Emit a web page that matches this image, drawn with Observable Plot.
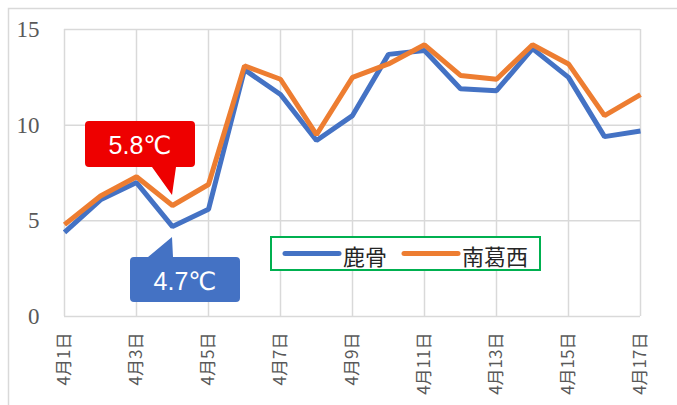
<!DOCTYPE html>
<html>
<head>
<meta charset="utf-8">
<script src="https://cdn.jsdelivr.net/npm/d3@7"></script>
<script src="https://cdn.jsdelivr.net/npm/@observablehq/plot@0.6"></script>
<style>
  html, body { margin: 0; padding: 0; background: #fff; }
  #chart { width: 677px; height: 405px; overflow: hidden; }
</style>
</head>
<body>
<div id="chart"></div>
<script>
// ---- data ----
const days = [1, 2, 3, 4, 5, 6, 7, 8, 9, 10, 11, 12, 13, 14, 15, 16, 17];
const kasabone = [4.4, 6.1, 7.0, 4.7, 5.6, 12.9, 11.6, 9.2, 10.5, 13.7, 13.9, 11.9, 11.8, 14.0, 12.5, 9.4, 9.7];
const minamikasai = [4.8, 6.3, 7.3, 5.8, 6.9, 13.1, 12.4, 9.5, 12.5, 13.2, 14.2, 12.6, 12.4, 14.2, 13.2, 10.5, 11.6];
const seriesNames = ["鹿骨", "南葛西"];
const seriesColors = ["#4472C4", "#ED7D31"];
const xTicks = [1, 3, 5, 7, 9, 11, 13, 15, 17];
const yTicks = [0, 5, 10, 15];
const calloutDay = 4;

const rows = [];
days.forEach((d, i) => {
  rows.push({day: d, value: kasabone[i], series: seriesNames[0]});
});
days.forEach((d, i) => {
  rows.push({day: d, value: minamikasai[i], series: seriesNames[1]});
});

const idx = days.indexOf(calloutDay);
const callouts = [
  {day: calloutDay, value: minamikasai[idx], color: "#EE0000", dir: "above"},
  {day: calloutDay, value: kasabone[idx], color: "#4472C4", dir: "below"}
];

function roundedPath(x0, y0, x1, y1, r, pointer) {
  let p = `M${x0 + r},${y0}`;
  if (pointer.side === "top") p += `H${pointer.a}L${pointer.tx},${pointer.ty}L${pointer.b},${y0}`;
  p += `H${x1 - r}Q${x1},${y0} ${x1},${y0 + r}V${y1 - r}Q${x1},${y1} ${x1 - r},${y1}`;
  if (pointer.side === "bottom") p += `H${pointer.b}L${pointer.tx},${pointer.ty}L${pointer.a},${y1}`;
  p += `H${x0 + r}Q${x0},${y1} ${x0},${y1 - r}V${y0 + r}Q${x0},${y0} ${x0 + r},${y0}Z`;
  return p;
}

const calloutMark = (index, scales, values, dimensions) => {
  const g = d3.create("svg:g");
  for (const c of callouts) {
    const px = scales.x(c.day), py = scales.y(c.value);
    let path, tx, ty;
    if (c.dir === "above") {
      const x0 = px - 87, x1 = px + 23, y0 = py - 84, y1 = py - 38;
      path = roundedPath(x0, y0, x1, y1, 4, {side: "bottom", a: px - 20, b: px + 4, tx: px, ty: py - 10});
      tx = (x0 + x1) / 2; ty = (y0 + y1) / 2;
    } else {
      const x0 = px - 42, x1 = px + 68, y0 = py + 31, y1 = py + 76;
      path = roundedPath(x0, y0, x1, y1, 4, {side: "top", a: px - 24, b: px + 1, tx: px, ty: py + 11});
      tx = (x0 + x1) / 2; ty = (y0 + y1) / 2;
    }
    g.append("path").attr("d", path).attr("fill", c.color);
    const t = g.append("text").attr("x", tx).attr("y", ty + 1)
      .attr("text-anchor", "middle").attr("dominant-baseline", "central")
      .attr("fill", "#fff").attr("font-family", "Arial, 'Liberation Sans', sans-serif")
      .attr("font-size", 25);
    t.append("tspan").text(`${c.value}`);
    t.append("tspan").attr("font-family", "'DejaVu Sans', sans-serif").attr("font-size", 25).text("℃");
  }
  return g.node();
};

const legendMark = (index, scales, values, dimensions) => {
  const g = d3.create("svg:g");
  const lx = 271, ly = 237, lw = 269, lh = 33, cy = ly + lh / 2;
  g.append("rect").attr("x", lx).attr("y", ly).attr("width", lw).attr("height", lh)
    .attr("fill", "#fff").attr("stroke", "#00B050").attr("stroke-width", 2);
  const items = [
    {x1: 285, x2: 339, tx: 343},
    {x1: 404, x2: 458, tx: 462}
  ];
  items.forEach((it, i) => {
    g.append("line").attr("x1", it.x1).attr("x2", it.x2).attr("y1", cy).attr("y2", cy)
      .attr("stroke", seriesColors[i]).attr("stroke-width", 5).attr("stroke-linecap", "round");
    g.append("text").attr("x", it.tx).attr("y", cy + 1).attr("dominant-baseline", "central")
      .attr("text-anchor", "start")
      .attr("font-family", "'Noto Sans CJK JP', sans-serif").attr("font-size", 22)
      .attr("fill", "#262626").text(seriesNames[i]);
  });
  return g.node();
};

const outerFrame = () => {
  const g = d3.create("svg:g");
  g.append("rect").attr("x", 8.5).attr("y", 8.5).attr("width", 900).attr("height", 900)
    .attr("fill", "none").attr("stroke", "#D9D9D9").attr("stroke-width", 1.5);
  return g.node();
};

const chart = Plot.plot({
  width: 677,
  height: 405,
  marginLeft: 64,
  marginRight: 37,
  marginTop: 29,
  marginBottom: 89,
  style: {background: "#fff", overflow: "visible"},
  x: {domain: [1, 17], ticks: xTicks},
  y: {domain: [0, 15], ticks: yTicks},
  color: {domain: seriesNames, range: seriesColors},
  marks: [
    outerFrame,
    Plot.gridX(xTicks, {stroke: "#D9D9D9", strokeOpacity: 1, strokeWidth: 1.5}),
    Plot.gridY(yTicks, {stroke: "#D9D9D9", strokeOpacity: 1, strokeWidth: 1.5}),
    Plot.axisY(yTicks, {tickSize: 0, tickPadding: 25, fontSize: 23, fill: "#595959",
      fontFamily: "'Liberation Serif', 'DejaVu Serif', serif", label: null}),
    Plot.axisX(xTicks, {tickSize: 0, tickPadding: 16, tickRotate: -90, fontSize: 17, fill: "#595959",
      fontFamily: "'Noto Sans CJK JP', sans-serif", tickFormat: d => `4月${d}日`, label: null}),
    Plot.line(rows, {x: "day", y: "value", z: "series", stroke: "series", strokeWidth: 5,
      strokeLinejoin: "miter", strokeLinecap: "butt"}),
    legendMark,
    calloutMark
  ]
});
document.getElementById("chart").appendChild(chart);
</script>
</body>
</html>
